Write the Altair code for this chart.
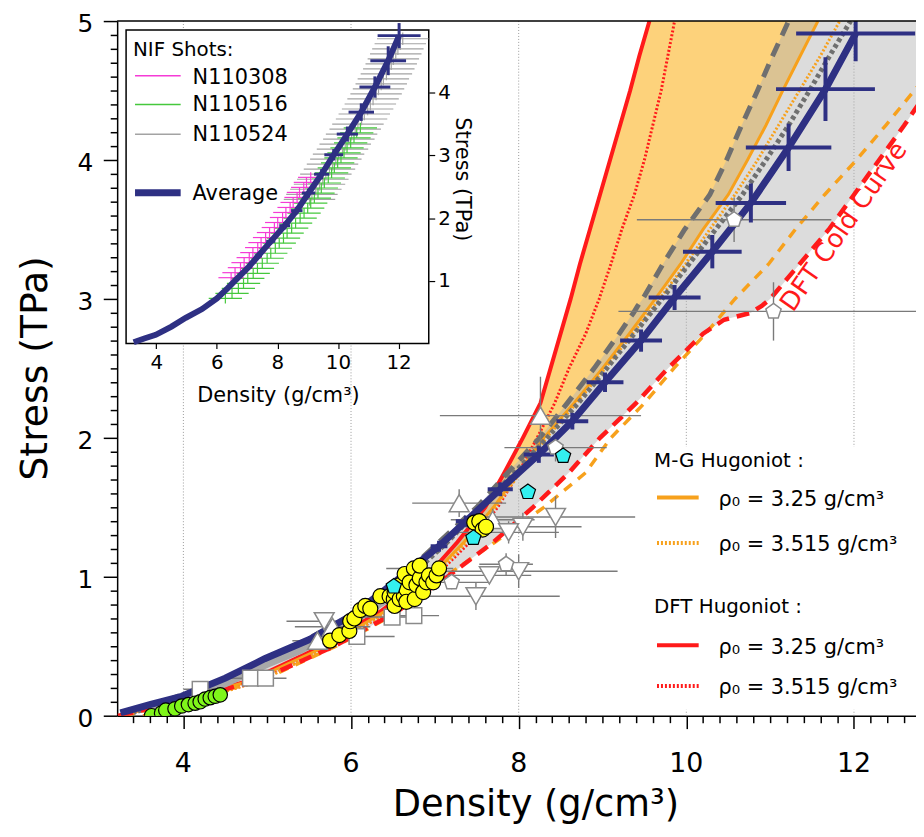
import altair as alt
import pandas as pd

# ---------------- DATA ----------------
# Stress grid (TPa) on which the model curves are read (density, g/cm3)
S = [0, 0.25, 0.5, 0.75, 1.0, 1.25, 1.5, 1.75, 2.0, 2.25, 2.5, 2.75, 3.0, 3.25, 3.5, 3.75, 4.0, 4.25, 4.5, 4.75, 5.0]
dft_325 = [3.22, 4.78, 5.65, 6.35, 6.9, 7.27, 7.6, 7.83, 8.05, 8.26, 8.38, 8.5, 8.62, 8.73, 8.85, 8.97, 9.09, 9.21, 9.33, 9.44, 9.56]
dft_3515 = [3.52, 4.9, 5.75, 6.45, 7.0, 7.42, 7.75, 8.0, 8.22, 8.43, 8.6, 8.8, 8.96, 9.1, 9.23, 9.38, 9.5, 9.6, 9.7, 9.78, 9.86]
mg_325 = [3.25, 4.8, 5.7, 6.4, 6.95, 7.35, 7.7, 8.0, 8.3, 8.66, 9.0, 9.32, 9.63, 9.93, 10.2, 10.5, 10.73, 10.95, 11.15, 11.36, 11.57]
mg_3515 = [3.52, 4.92, 5.75, 6.45, 6.98, 7.38, 7.72, 8.02, 8.33, 8.69, 9.03, 9.36, 9.68, 9.99, 10.28, 10.58, 10.85, 11.1, 11.35, 11.6, 11.83]
grey_dotted = [3.3, 4.5, 5.45, 6.15, 6.7, 7.15, 7.55, 7.95, 8.34, 8.71, 9.05, 9.38, 9.71, 10.03, 10.35, 10.67, 10.95, 11.22, 11.47, 11.71, 11.96]
mg_cold = [3.3, 4.92, 5.82, 6.58, 7.12, 7.72, 8.3, 8.8, 9.1, 9.5, 9.85, 10.23, 10.58, 10.98, 11.3, 11.65, 12.03, 12.38, 12.72, 13.05, 13.4]

S2 = [0, 0.25, 0.5, 0.75, 1.0, 1.25, 1.5, 1.75, 2.0, 2.25, 2.5, 2.75, 2.85, 2.9, 2.95, 3.0, 3.25, 3.5, 3.75, 4.0, 4.25, 4.5, 4.75, 5.0]
grey_dashed = [3.28, 4.45, 5.33, 6.08, 6.6, 7.05, 7.5, 7.87, 8.25, 8.58, 8.9, 9.2, 9.31, 9.37, 9.42, 9.48, 9.72, 9.98, 10.28, 10.48, 10.66, 10.85, 11.03, 11.22]
dft_cold = [3.25, 4.88, 5.8, 6.55, 7.15, 7.7, 8.17, 8.6, 8.97, 9.4, 9.78, 10.2, 10.45, 10.77, 10.9, 11.0, 11.35, 11.7, 12.0, 12.3, 12.6, 12.88, 13.15, 13.42]

# Grey thick curve
gt_d = [3.6, 4.0, 4.5, 5.0, 5.4, 5.9, 6.31, 6.82, 7.1]
gt_s = [0.06, 0.12, 0.23, 0.37, 0.47, 0.63, 0.79, 0.98, 1.1]

# NIF average
avg_d = [3.25, 3.6, 3.98, 4.5, 4.97, 5.51, 6.0, 6.35, 6.7, 7.05, 7.37, 7.78, 8.24, 8.64, 9.03, 9.46, 9.86, 10.31, 10.77, 11.22, 11.66, 12.02]
avg_s = [0.02, 0.08, 0.14, 0.27, 0.41, 0.55, 0.72, 0.88, 1.05, 1.22, 1.4, 1.63, 1.88, 2.12, 2.4, 2.7, 3.01, 3.34, 3.69, 4.09, 4.51, 4.91]
avgx_d = [7.05, 7.37, 7.78, 8.24, 8.64, 9.03, 9.46, 9.86, 10.31, 10.77, 11.22, 11.66, 12.02]
avgx_s = [1.22, 1.4, 1.63, 1.88, 2.12, 2.4, 2.7, 3.01, 3.34, 3.69, 4.09, 4.51, 4.91]
avgx_dx = [0.1, 0.12, 0.15, 0.18, 0.19, 0.22, 0.25, 0.31, 0.35, 0.42, 0.51, 0.59, 0.71]
avgx_ds = [0.04, 0.04, 0.05, 0.06, 0.06, 0.07, 0.08, 0.09, 0.12, 0.14, 0.17, 0.23, 0.2]

# Individual NIF shots (inset)
mag_s = [1.05, 1.13, 1.21, 1.29, 1.37, 1.45, 1.53, 1.61, 1.69, 1.77, 1.85, 1.93, 2.01, 2.09, 2.17, 2.25, 2.33, 2.41, 2.49, 2.57, 2.65]
mag_d = [6.47, 6.6, 6.78, 6.9, 7.07, 7.19, 7.35, 7.46, 7.61, 7.74, 7.9, 8.01, 8.17, 8.28, 8.42, 8.52, 8.65, 8.73, 8.87, 8.96, 9.1]
MAG_DX, MAG_DS = 0.42, 0.08
grn_s = [0.72, 0.8, 0.88, 0.96, 1.04, 1.12, 1.2, 1.28, 1.36, 1.44, 1.52, 1.6, 1.68, 1.76, 1.84, 1.92, 2.0, 2.08, 2.16, 2.24, 2.32, 2.4, 2.48, 2.56, 2.64, 2.72, 2.8, 2.88, 2.96, 3.04, 3.12, 3.2, 3.28, 3.36, 3.44]
grn_d = [6.28, 6.5, 6.71, 6.88, 7.02, 7.2, 7.34, 7.5, 7.66, 7.78, 7.93, 8.06, 8.2, 8.32, 8.47, 8.6, 8.75, 8.88, 9.0, 9.1, 9.22, 9.34, 9.45, 9.55, 9.68, 9.79, 9.88, 9.99, 10.1, 10.2, 10.3, 10.42, 10.53, 10.62, 10.74]
GRN_DX, GRN_DS = 0.55, 0.08
gry_s = [2.3, 2.38, 2.46, 2.54, 2.62, 2.7, 2.78, 2.86, 2.94, 3.02, 3.1, 3.18, 3.26, 3.34, 3.42, 3.5, 3.58, 3.66, 3.74, 3.82, 3.9, 3.98, 4.06, 4.14, 4.22, 4.3, 4.38, 4.46, 4.54, 4.62, 4.7, 4.78, 4.86]
gry_d = [9.06, 9.14, 9.27, 9.39, 9.5, 9.6, 9.72, 9.82, 9.93, 10.02, 10.15, 10.24, 10.36, 10.45, 10.57, 10.66, 10.78, 10.87, 10.98, 11.07, 11.16, 11.26, 11.34, 11.43, 11.5, 11.6, 11.68, 11.76, 11.83, 11.91, 11.98, 12.06, 12.14]
GRY_DX, GRY_DS = 0.85, 0.1

# Other experiments
green_d = [3.62, 3.74, 3.79, 3.9, 3.98, 4.06, 4.14, 4.2, 4.26, 4.32, 4.38, 4.44]
green_s = [0.0, 0.02, 0.04, 0.05, 0.07, 0.08, 0.09, 0.1, 0.12, 0.13, 0.14, 0.15]
yel_d = [5.75, 5.86, 5.98, 5.99, 6.04, 6.11, 6.17, 6.23, 6.35, 6.46, 6.51, 6.52, 6.52, 6.58, 6.58, 6.63, 6.64, 6.66, 6.66, 6.7, 6.75, 6.76, 6.78, 6.82, 6.82, 6.86, 6.9, 6.93, 6.98, 7.02, 7.05, 7.47, 7.53, 7.57, 7.61]
yel_s = [0.54, 0.58, 0.61, 0.68, 0.7, 0.76, 0.79, 0.77, 0.86, 0.86, 0.84, 0.89, 0.79, 0.94, 0.84, 0.86, 1.02, 0.91, 0.82, 0.96, 1.06, 0.84, 0.94, 0.99, 1.08, 0.89, 0.96, 1.01, 0.96, 1.01, 1.06, 1.39, 1.4, 1.34, 1.36]
cyan_d = [6.51, 7.46, 8.11, 8.53]
cyan_s = [0.93, 1.28, 1.61, 1.87]

tup_d = [8.26, 7.29, 7.69, 6.82, 5.6, 5.78]
tup_s = [2.16, 1.53, 1.41, 1.06, 0.54, 0.64]
tup_dx = [1.2, 0.56, 0.5, 0.4, 0.3, 0.45]
tup_ds = [0.28, 0.1, 0.08, 0.06, 0.05, 0.05]
tdn_d = [8.44, 8.05, 7.88, 8.0, 7.65, 7.49, 5.68]
tdn_s = [1.43, 1.36, 1.32, 1.04, 1.01, 0.86, 0.68]
tdn_dx = [1.1, 0.7, 0.6, 1.18, 0.5, 1.0, 0.45]
tdn_ds = [0.15, 0.1, 0.08, 0.12, 0.06, 0.1, 0.05]
pen_d = [10.57, 11.04, 8.44, 7.2, 7.85]
pen_s = [3.57, 2.91, 1.93, 0.96, 1.09]
pen_dx = [1.16, 1.85, 0.61, 0.45, 0.32]
pen_ds = [0.16, 0.21, 0.1, 0.05, 0.08]
sq_d = [4.2, 4.8, 4.98, 6.07, 6.49, 6.75]
sq_s = [0.19, 0.27, 0.27, 0.57, 0.71, 0.72]
sq_dx = [0.2, 0.25, 0.25, 0.45, 0.35, 0.3]
sq_ds = [0.03, 0.03, 0.03, 0.04, 0.04, 0.04]

grid_x = [4, 6, 8, 10, 12]
x_labels = [4, 6, 8, 10, 12]
y_labels = [0, 1, 2, 3, 4, 5]
x_ticks = [round(3.4 + 0.2 * i, 1) for i in range(47)]
y_ticks = [round(0.1 * i, 1) for i in range(51)]
inset_x_ticks = [4, 6, 8, 10, 12]
inset_y_ticks = [1, 2, 3, 4]

# ---------------- STYLE / SCALES ----------------
FONT = "DejaVu Sans"
W, H = 805, 700
RED, ORANGE, NAVY = "#ff1a1a", "#f7a11c", "#2e3083"
PENT = "M0,-1L0.951,-0.309L0.588,0.809L-0.588,0.809L-0.951,-0.309Z"

sx = alt.Scale(domain=[3.21, 12.74], nice=False, zero=False)
sy = alt.Scale(domain=[0, 5], nice=False, zero=False)
isx = alt.Scale(domain=[2.705, 29.098], nice=False, zero=False)
isy = alt.Scale(domain=[-5.934, 5.142], nice=False, zero=False)

even = "abs(datum.value/2 - round(datum.value/2)) < 0.001"
integ = "abs(datum.value - round(datum.value)) < 0.001"

ax_x = alt.Axis(values=x_ticks, title=None, grid=False, labels=False,
                tickSize={"condition": {"test": even, "value": 13}, "value": 7},
                tickColor="black", tickWidth=1.5, domainColor="black", domainWidth=1.5)
ax_y = alt.Axis(values=y_ticks, title=None, grid=False, labels=False,
                tickSize={"condition": {"test": integ, "value": 14}, "value": 7},
                tickColor="black", tickWidth=1.5, domainColor="black", domainWidth=1.5)

iax_x = alt.Axis(orient="bottom", offset=-375, values=inset_x_ticks, domain=False, grid=False,
                 tickSize=5, tickColor="black", tickWidth=1.2,
                 labelFont=FONT, labelFontSize=20, labelColor="black", labelPadding=4,
                 title="Density (g/cm³)", titleFont=FONT, titleFontSize=21, titleFontWeight="normal",
                 titleColor="black", titleX=162, titleY=52, titleBaseline="middle")
iax_y = alt.Axis(orient="right", offset=-491, values=inset_y_ticks, domain=False, grid=False,
                 tickSize=6, tickColor="black", tickWidth=1.2,
                 labelFont=FONT, labelFontSize=20, labelColor="black", labelPadding=3,
                 title="Stress (TPa)", titleFont=FONT, titleFontSize=21, titleFontWeight="normal",
                 titleColor="black", titleX=33, titleY=159, titleAngle=90,
                 titleBaseline="middle", titleAlign="center")

ONE = pd.DataFrame({"k": [0]})


def X(f="d", main=True):
    return alt.X(f"{f}:Q", scale=sx if main else isx, axis=ax_x if main else iax_x)


def Y(f="s", main=True):
    return alt.Y(f"{f}:Q", scale=sy if main else isy, axis=ax_y if main else iax_y)


def curve(dv, sv, color, width, dash=None, main=True):
    kw = dict(color=color, strokeWidth=width, clip=main)
    if dash:
        kw["strokeDash"] = dash
    df = pd.DataFrame({"d": dv, "s": sv})
    return alt.Chart(df).mark_line(**kw).encode(x=X(main=main), y=Y(main=main), order=alt.Order("s:Q"))


def band(sv, d1, d2, color, opacity):
    df = pd.DataFrame({"s": sv, "d": d1, "d2": d2})
    return alt.Chart(df).mark_area(orient="horizontal", fill=color, fillOpacity=opacity,
                                   stroke=None, clip=True).encode(y=Y(), x=X(), x2="d2:Q")


def errbars(dv, sv, dx, ds, color, width, main=True):
    n = len(dv)
    dxl = dx if isinstance(dx, list) else [dx] * n
    dsl = ds if isinstance(ds, list) else [ds] * n
    df = pd.DataFrame({"d": dv, "s": sv, "dx": dxl, "ds": dsl})
    df["xlo"], df["xhi"] = df.d - df.dx, df.d + df.dx
    df["slo"], df["shi"] = df.s - df.ds, df.s + df.ds
    h = alt.Chart(df).mark_rule(color=color, strokeWidth=width, clip=main).encode(
        x=X("xlo", main), x2="xhi:Q", y=Y("s", main))
    v = alt.Chart(df).mark_rule(color=color, strokeWidth=width, clip=main).encode(
        x=X("d", main), y=Y("slo", main), y2="shi:Q")
    return [h, v]


def markers(dv, sv, shape, size, fill, stroke, sw=1.5):
    df = pd.DataFrame({"d": dv, "s": sv})
    return alt.Chart(df).mark_point(shape=shape, size=size, fill=fill, stroke=stroke, strokeWidth=sw,
                                    opacity=1, fillOpacity=1, strokeOpacity=1, clip=True).encode(
        x=X(), y=Y())


def text(t, x, y, size, color="black", align="left", angle=0, clip=True):
    kw = dict(text=t, font=FONT, fontSize=size, color=color, align=align, baseline="middle", clip=clip)
    if angle:
        kw["angle"] = angle
    return alt.Chart(ONE).mark_text(**kw).encode(x=alt.value(x), y=alt.value(y))


def sample(x1, x2, y, color, width, dash=None):
    kw = dict(color=color, strokeWidth=width)
    if dash:
        kw["strokeDash"] = dash
    return alt.Chart(ONE).mark_rule(**kw).encode(x=alt.value(x1), x2=alt.value(x2), y=alt.value(y))


# ---------------- MAIN PANEL ----------------
main_layers = []
main_layers.append(alt.Chart(pd.DataFrame({"d": grid_x})).mark_rule(
    color="#9a9a9a", strokeWidth=1, strokeDash=[1, 2]).encode(x=X(), y=alt.value(0), y2=alt.value(H)))
main_layers.append(band(S, dft_325, mg_325, "#fdd27b", 1))
main_layers.append(band(S2, grey_dashed, dft_cold, "#b2b2b2", 0.45))
main_layers += [
    curve(dft_325, S, RED, 4),
    curve(dft_3515, S, RED, 3, [2, 2]),
    curve(mg_325, S, ORANGE, 3),
    curve(mg_3515, S, ORANGE, 3, [2, 2]),
    curve(grey_dotted, S, "#6f6f6f", 5, [4, 3]),
    curve(grey_dashed, S2, "#6f6f6f", 5, [14, 9]),
    curve(mg_cold, S, ORANGE, 3.5, [10, 8]),
    curve(dft_cold, S2, RED, 4.5, [13, 8]),
    curve(gt_d, gt_s, "#a8a8a8", 7),
]
EB = "#7a7a7a"
main_layers += errbars(tup_d, tup_s, tup_dx, tup_ds, EB, 1.4)
main_layers += errbars(tdn_d, tdn_s, tdn_dx, tdn_ds, EB, 1.4)
main_layers += errbars(pen_d, pen_s, pen_dx, pen_ds, EB, 1.4)
main_layers += errbars(sq_d, sq_s, sq_dx, sq_ds, EB, 1.4)
main_layers.append(curve(avg_d, avg_s, NAVY, 7))
main_layers += errbars(avgx_d, avgx_s, avgx_dx, avgx_ds, NAVY, 4)
main_layers += [
    markers(sq_d, sq_s, "square", 250, "white", "#8a8a8a"),
    markers(tup_d, tup_s, "triangle-up", 400, "white", "#8a8a8a"),
    markers(tdn_d, tdn_s, "triangle-down", 400, "white", "#8a8a8a"),
    markers(pen_d, pen_s, PENT, 260, "white", "#8a8a8a"),
    markers(yel_d, yel_s, "circle", 230, "#ffff14", "black", 1.2),
    markers(green_d, green_s, "circle", 210, "#7ff51a", "black", 1.2),
    markers(cyan_d, cyan_s, PENT, 260, "#33f0f0", "black", 1.2),
]
main_layers.append(alt.Chart(pd.DataFrame({"d": [11.88], "s": [3.52], "t": ["DFT Cold Curve"]})).mark_text(
    font=FONT, fontSize=26, color=RED, angle=305, align="center", baseline="middle", clip=True).encode(
    x=X(), y=Y(), text="t:N"))
# legend
main_layers.append(alt.Chart(ONE).mark_rect(color="white").encode(
    x=alt.value(522), x2=alt.value(W), y=alt.value(429), y2=alt.value(694)))
main_layers += [
    text("M-G Hugoniot :", 541, 443, 20),
    sample(544, 586, 480, ORANGE, 4),
    text("ρ₀ = 3.25 g/cm³", 606, 483, 21),
    sample(544, 586, 526, ORANGE, 4, [2, 2]),
    text("ρ₀ = 3.515 g/cm³", 606, 528, 21),
    text("DFT Hugoniot :", 541, 590, 20),
    sample(544, 586, 629, RED, 4),
    text("ρ₀ = 3.25 g/cm³", 606, 632, 21),
    sample(544, 586, 670, RED, 4, [2, 2]),
    text("ρ₀ = 3.515 g/cm³", 606, 672, 21),
]
main_layers.append(alt.Chart(ONE).mark_rule(color="black", strokeWidth=1.5).encode(
    x=alt.value(0), x2=alt.value(W), y=alt.value(0)))
# tick labels (through the main scales) and axis titles
main_layers.append(alt.Chart(pd.DataFrame({"d": x_labels, "lab": [str(v) for v in x_labels]})).mark_text(
    font=FONT, fontSize=27, color="black", align="center", baseline="middle").encode(
    x=X(), y=alt.value(749), text="lab:N"))
main_layers.append(alt.Chart(pd.DataFrame({"s": y_labels, "lab": [str(v) for v in y_labels]})).mark_text(
    font=FONT, fontSize=25, color="black", align="right", baseline="middle", dy=3).encode(
    x=alt.value(-24), y=Y(), text="lab:N"))
main_layers.append(text("Density (g/cm³)", 422, 790, 37, align="center", clip=False))
main_layers.append(text("Stress (TPa)", -82, 350, 38, align="center", angle=270, clip=False))
main = alt.layer(*main_layers)

# ---------------- INSET ----------------
inset_layers = [alt.Chart(ONE).mark_rect(fill="white", stroke="black", strokeWidth=1.5).encode(
    x=alt.value(9), x2=alt.value(314), y=alt.value(9), y2=alt.value(325))]
inset_layers += errbars(gry_d, gry_s, GRY_DX, GRY_DS, "#a3a3a3", 1.2, main=False)
inset_layers += errbars(grn_d, grn_s, GRN_DX, GRN_DS, "#45c83c", 1.2, main=False)
inset_layers += errbars(mag_d, mag_s, MAG_DX, MAG_DS, "#f53bd6", 1.2, main=False)
inset_layers.append(curve(avg_d, avg_s, NAVY, 6, main=False))
inset_layers += errbars(avgx_d, avgx_s, avgx_dx, avgx_ds, NAVY, 3, main=False)
inset_layers += [
    text("NIF Shots:", 16, 29, 20),
    sample(18, 64, 55, "#f53bd6", 1.5),
    text("N110308", 76, 57, 21),
    sample(18, 64, 84, "#45c83c", 1.5),
    text("N110516", 76, 85, 21),
    sample(18, 64, 114, "#a3a3a3", 1.5),
    text("N110524", 76, 115, 21),
    sample(18, 64, 173, NAVY, 7),
    text("Average", 76, 174, 21),
]
inset = alt.layer(*inset_layers)

chart = alt.layer(main, inset).resolve_scale(x="independent", y="independent").properties(
    width=W, height=H, autosize=alt.AutoSizeParams(type="none"),
    padding={"left": 110, "top": 10, "right": 0, "bottom": 111},
).configure_view(stroke=None)

chart.save("out.html", embed_options={"renderer": "svg", "actions": False})
